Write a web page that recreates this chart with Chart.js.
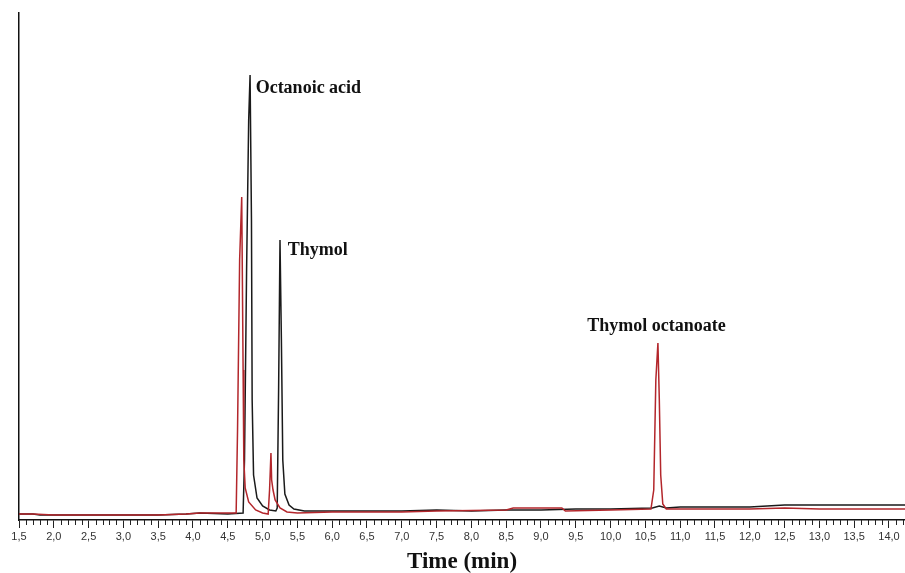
<!DOCTYPE html>
<html>
<head>
<meta charset="utf-8">
<script src="https://cdn.jsdelivr.net/npm/chart.js@4.4.1/dist/chart.umd.min.js"></script>
<style>
  html, body { margin: 0; padding: 0; background: #ffffff; }
  #wrap { width: 905px; height: 573px; }
</style>
</head>
<body>
<div id="wrap"><canvas id="chromChart"></canvas></div>
<script>
// Chromatogram - retention time (min) vs detector response (arbitrary units)

// black trace: reaction mixture at start (octanoic acid + thymol)
const blackTimes = [1.5, 1.7, 1.8, 2.5, 3.0, 3.5, 3.9, 4.1, 4.5, 4.72, 4.74, 4.77, 4.80, 4.82, 4.84, 4.85, 4.87, 4.92, 5.0, 5.1, 5.19, 5.21, 5.23, 5.25, 5.27, 5.29, 5.32, 5.38, 5.45, 5.6, 6.0, 7.0, 7.5, 8.0, 8.5, 9.0, 9.5, 10.0, 10.6, 10.7, 10.8, 11.0, 11.5, 12.0, 12.5, 12.8, 13.0, 14.23];
const blackValues = [6, 6, 5, 5, 5, 5, 6, 7, 6, 7, 60, 250, 400, 445, 300, 120, 45, 22, 14, 10, 9, 12, 130, 280, 180, 60, 26, 15, 11, 9, 9, 9, 10, 9, 10, 10, 11, 11, 12, 14, 12, 13, 13, 13, 15, 15, 15, 15];

// red trace: after reaction (thymol octanoate formed)
const redTimes = [1.5, 1.7, 2.0, 2.5, 3.0, 3.5, 3.9, 4.1, 4.5, 4.62, 4.64, 4.67, 4.70, 4.72, 4.73, 4.75, 4.80, 4.90, 5.0, 5.08, 5.10, 5.12, 5.13, 5.15, 5.18, 5.25, 5.35, 5.5, 6.0, 7.0, 7.5, 8.5, 8.6, 9.3, 9.35, 10.0, 10.58, 10.62, 10.65, 10.68, 10.70, 10.72, 10.75, 10.8, 11.5, 12.0, 12.5, 13.0, 13.5, 14.23];
const redValues = [6, 6, 5, 5, 5, 5, 6, 7, 7, 7, 90, 260, 323, 150, 60, 32, 18, 10, 7, 6, 30, 67, 40, 30, 20, 12, 8, 7, 8, 8, 9, 10, 12, 12, 9, 10, 11, 30, 140, 177, 120, 45, 16, 11, 11, 11, 12, 11, 11, 11];

// peak labels
const peakNames = ['Octanoic acid', 'Thymol', 'Thymol octanoate'];

const toPoints = (xs, ys) => xs.map((x, i) => ({ x: x, y: ys[i] }));

// peak label plugin - placed through the chart scales
const peakLabels = {
    id: 'peakLabels',
    afterDatasetsDraw(chart, args, opts) {
        const { ctx, scales } = chart;
        ctx.save();
        ctx.font = 'bold 18px "Liberation Serif", "Times New Roman", serif';
        ctx.fillStyle = '#111';
        ctx.textBaseline = 'alphabetic';
        opts.anchors.forEach((a, i) => {
            ctx.textAlign = a.align;
            ctx.fillText(peakNames[i], scales.x.getPixelForValue(a.t), scales.y.getPixelForValue(a.v));
        });
        ctx.restore();
    }
};

// minor ticks every 0.1 min
const minorTicks = {
    id: 'minorTicks',
    afterDraw(chart) {
        const { ctx } = chart;
        const sx = chart.scales.x;
        ctx.save();
        ctx.strokeStyle = '#222';
        ctx.lineWidth = 1;
        ctx.beginPath();
        for (let k = 15; k <= 142; k++) {
            if (k % 5 === 0) continue;
            const px = Math.round(sx.getPixelForValue(k / 10)) + 0.5;
            ctx.moveTo(px, sx.top);
            ctx.lineTo(px, sx.top + 5);
        }
        ctx.stroke();
        ctx.restore();
    }
};

new Chart(document.getElementById('chromChart'), {
    type: 'line',
    data: {
        datasets: [
            {
                label: 'After reaction',
                data: toPoints(redTimes, redValues),
                borderColor: '#b3262b',
                borderWidth: 1.5,
                pointRadius: 0,
                tension: 0,
                order: 1
            },
            {
                label: 'Start',
                data: toPoints(blackTimes, blackValues),
                borderColor: '#1a1a1a',
                borderWidth: 1.5,
                pointRadius: 0,
                tension: 0,
                order: 2
            }
        ]
    },
    options: {
        responsive: true,
        maintainAspectRatio: false,
        animation: false,
        layout: { padding: { left: 19, right: 0, top: 13, bottom: -1 } },
        scales: {
            x: {
                type: 'linear',
                min: 1.5,
                max: 14.23,
                border: { display: true, color: '#111', width: 1.5 },
                grid: { drawOnChartArea: false, tickLength: 8, color: '#222' },
                ticks: {
                    stepSize: 0.5,
                    includeBounds: false,
                    maxRotation: 0,
                    autoSkip: false,
                    padding: 3,
                    color: '#333',
                    font: { family: '"Liberation Sans", Arial, sans-serif', size: 11, lineHeight: 1 },
                    callback: (v) => v.toFixed(1).replace('.', ',')
                },
                title: {
                    display: true,
                    text: 'Time (min)',
                    color: '#111',
                    font: { family: '"Liberation Serif", "Times New Roman", serif', size: 23, weight: 'bold', lineHeight: 1 },
                    padding: { top: 6, bottom: 0 }
                }
            },
            y: {
                min: 0,
                max: 507,
                border: { display: true, color: '#111', width: 1.5 },
                grid: { display: false, drawTicks: false },
                ticks: { display: false }
            }
        },
        plugins: {
            legend: { display: false },
            tooltip: { enabled: false },
            peakLabels: {
                anchors: [
                    { t: 4.90, v: 427, align: 'left' },
                    { t: 5.36, v: 265, align: 'left' },
                    { t: 10.66, v: 189, align: 'center' }
                ]
            }
        }
    },
    plugins: [peakLabels, minorTicks]
});
</script>
</body>
</html>
